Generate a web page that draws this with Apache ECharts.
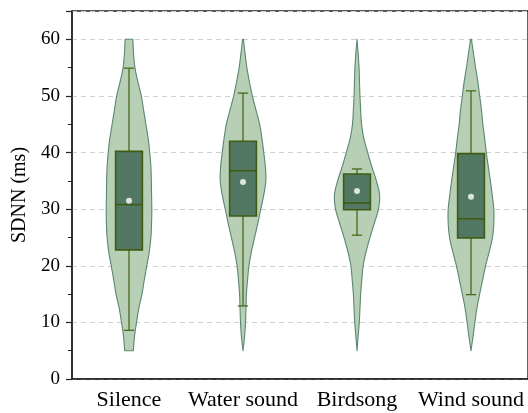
<!DOCTYPE html>
<html>
<head>
<meta charset="utf-8">
<script src="https://cdn.jsdelivr.net/npm/echarts@6/dist/echarts.min.js"></script>
<style>html,body{margin:0;padding:0;background:#fff}#c{width:528px;height:413px}</style>
</head>
<body>
<div id="c"></div>
<script>
// ---- data ----
var categories = ['Silence', 'Water sound', 'Birdsong', 'Wind sound'];
var yTicks = [0, 10, 20, 30, 40, 50, 60];
// box stats: [lower whisker, Q1, median, Q3, upper whisker]
var boxSilence = [8.6, 22.8, 30.8, 40.2, 54.9];
var boxWater   = [12.9, 28.8, 36.8, 42.0, 50.5];
var boxBird    = [25.4, 29.9, 31.1, 36.2, 37.1];
var boxWind    = [14.9, 24.9, 28.3, 39.8, 50.9];
var means = [31.5, 34.8, 33.2, 32.2];
// violin density levels (ms) and relative half-widths
var levels = [5, 7.5, 10, 12.5, 15, 17.5, 20, 22.5, 25, 27.5, 30, 32.5, 35, 37.5, 40, 42.5, 45, 47.5, 50, 52.5, 55, 57.5, 60];
var densSilence = [0.19, 0.24, 0.33, 0.43, 0.57, 0.67, 0.78, 0.89, 0.96, 0.99, 1.0, 0.99, 0.98, 0.96, 0.91, 0.84, 0.74, 0.64, 0.54, 0.39, 0.26, 0.2, 0.17];
var densWater   = [0.0, 0.07, 0.11, 0.13, 0.15, 0.2, 0.26, 0.37, 0.51, 0.65, 0.78, 0.91, 1.0, 0.98, 0.91, 0.83, 0.73, 0.57, 0.41, 0.28, 0.17, 0.09, 0.02];
var densBird    = [0.0, 0.05, 0.1, 0.13, 0.16, 0.21, 0.27, 0.4, 0.57, 0.76, 0.94, 0.99, 0.85, 0.65, 0.47, 0.3, 0.2, 0.16, 0.13, 0.11, 0.09, 0.05, 0.0];
var densWind    = [0.0, 0.09, 0.17, 0.26, 0.38, 0.51, 0.64, 0.8, 0.94, 1.0, 1.0, 0.93, 0.85, 0.76, 0.67, 0.6, 0.52, 0.46, 0.38, 0.3, 0.2, 0.11, 0.02];

var boxes = [boxSilence, boxWater, boxBird, boxWind];
var densities = [densSilence, densWater, densBird, densWind];

var VIOLIN_FILL = '#b6cfb5', VIOLIN_STROKE = '#5a8771';
var BOX_FILL = '#527864', BOX_STROKE = '#3f5b12', WHISKER = '#4a6a1c';

var chart = echarts.init(document.getElementById('c'));

// Catmull-Rom smoothing of an open curve (rendering only)
function smoothCurve(pts, steps) {
  var out = [];
  for (var k = 0; k < pts.length - 1; k++) {
    var p0 = pts[Math.max(k - 1, 0)], p1 = pts[k], p2 = pts[k + 1], p3 = pts[Math.min(k + 2, pts.length - 1)];
    for (var s = 0; s < steps; s++) {
      var t = s / steps, t2 = t * t, t3 = t2 * t;
      var f = function (a, b, c, d) {
        return 0.5 * ((2 * b) + (-a + c) * t + (2 * a - 5 * b + 4 * c - d) * t2 + (-a + 3 * b - 3 * c + d) * t3);
      };
      out.push([f(p0[0], p1[0], p2[0], p3[0]), f(p0[1], p1[1], p2[1], p3[1])]);
    }
  }
  out.push(pts[pts.length - 1]);
  return out;
}

function violinItem(params, api) {
  var i = api.value(0);
  var band = api.size([1, 0])[0];
  var dens = densities[i];
  var right = [], left = [];
  for (var k = 0; k < levels.length; k++) {
    var p = api.coord([i, levels[k]]);
    var hw = dens[k] * band * 0.2;
    right.push([p[0] + hw, p[1]]);
    left.push([p[0] - hw, p[1]]);
  }
  var r = smoothCurve(right, 6);
  var l = smoothCurve(left, 6).reverse();
  return {
    type: 'polygon',
    shape: { points: r.concat(l) },
    style: { fill: VIOLIN_FILL, stroke: VIOLIN_STROKE, lineWidth: 1.1, lineJoin: 'round' }
  };
}

function boxItem(params, api) {
  var i = api.value(0);
  var band = api.size([1, 0])[0];
  var b = boxes[i];
  var pLow = api.coord([i, b[0]]), pQ1 = api.coord([i, b[1]]), pMed = api.coord([i, b[2]]),
      pQ3 = api.coord([i, b[3]]), pHigh = api.coord([i, b[4]]);
  var x = pQ1[0];
  var bw = band * 0.235 / 2;
  var cw = band * 0.045;
  var wStyle = { stroke: WHISKER, lineWidth: 1.3 };
  return {
    type: 'group',
    children: [
      { type: 'line', shape: { x1: x, y1: pLow[1], x2: x, y2: pQ1[1] }, style: wStyle },
      { type: 'line', shape: { x1: x, y1: pQ3[1], x2: x, y2: pHigh[1] }, style: wStyle },
      { type: 'line', shape: { x1: x - cw, y1: pLow[1], x2: x + cw, y2: pLow[1] }, style: wStyle },
      { type: 'line', shape: { x1: x - cw, y1: pHigh[1], x2: x + cw, y2: pHigh[1] }, style: wStyle },
      { type: 'rect', shape: { x: x - bw, y: pQ3[1], width: 2 * bw, height: pQ1[1] - pQ3[1] },
        style: { fill: BOX_FILL, stroke: BOX_STROKE, lineWidth: 1.6 } },
      { type: 'line', shape: { x1: x - bw, y1: pMed[1], x2: x + bw, y2: pMed[1] },
        style: { stroke: BOX_STROKE, lineWidth: 1.6 } }
    ]
  };
}

var serif = 'Liberation Serif';
chart.setOption({
  animation: false,
  backgroundColor: '#fff',
  grid: { left: 72, top: 11, width: 460, bottom: 34, show: true, borderColor: '#222', borderWidth: 1.4 },
  xAxis: {
    type: 'category',
    data: categories,
    axisLine: { lineStyle: { color: '#222', width: 1.5 } },
    axisTick: { alignWithLabel: true, length: 6, lineStyle: { color: '#222', width: 1.2 } },
    axisLabel: { color: '#000', fontFamily: serif, fontSize: 22, margin: 10, interval: 0, hideOverlap: false },
    splitLine: { show: false }
  },
  yAxis: {
    type: 'value',
    min: yTicks[0], max: 65, interval: yTicks[1] - yTicks[0],
    name: 'SDNN (ms)',
    nameLocation: 'middle',
    nameGap: 37,
    nameTextStyle: { color: '#000', fontFamily: serif, fontSize: 20 },
    axisLine: { show: true, lineStyle: { color: '#222', width: 1.5 } },
    axisTick: { show: true, length: 6, lineStyle: { color: '#222', width: 1.2 } },
    minorTick: { show: true, splitNumber: 2, length: 4, lineStyle: { color: '#222', width: 1 } },
    axisLabel: { color: '#000', fontFamily: serif, fontSize: 19, margin: 12, showMaxLabel: false },
    splitLine: { show: true, lineStyle: { color: '#cfcfcf', type: [5, 4], width: 1 } }
  },
  series: [
    { type: 'custom', renderItem: violinItem, data: categories.map(function (c, i) { return [i]; }), z: 2 },
    { type: 'custom', renderItem: boxItem, data: categories.map(function (c, i) { return [i].concat(boxes[i]); }), z: 3 },
    { type: 'scatter', data: means.map(function (m, i) { return [i, m]; }), symbol: 'circle', symbolSize: 6,
      itemStyle: { color: '#fff', borderWidth: 0 }, z: 4 }
  ]
});
</script>
</body>
</html>
